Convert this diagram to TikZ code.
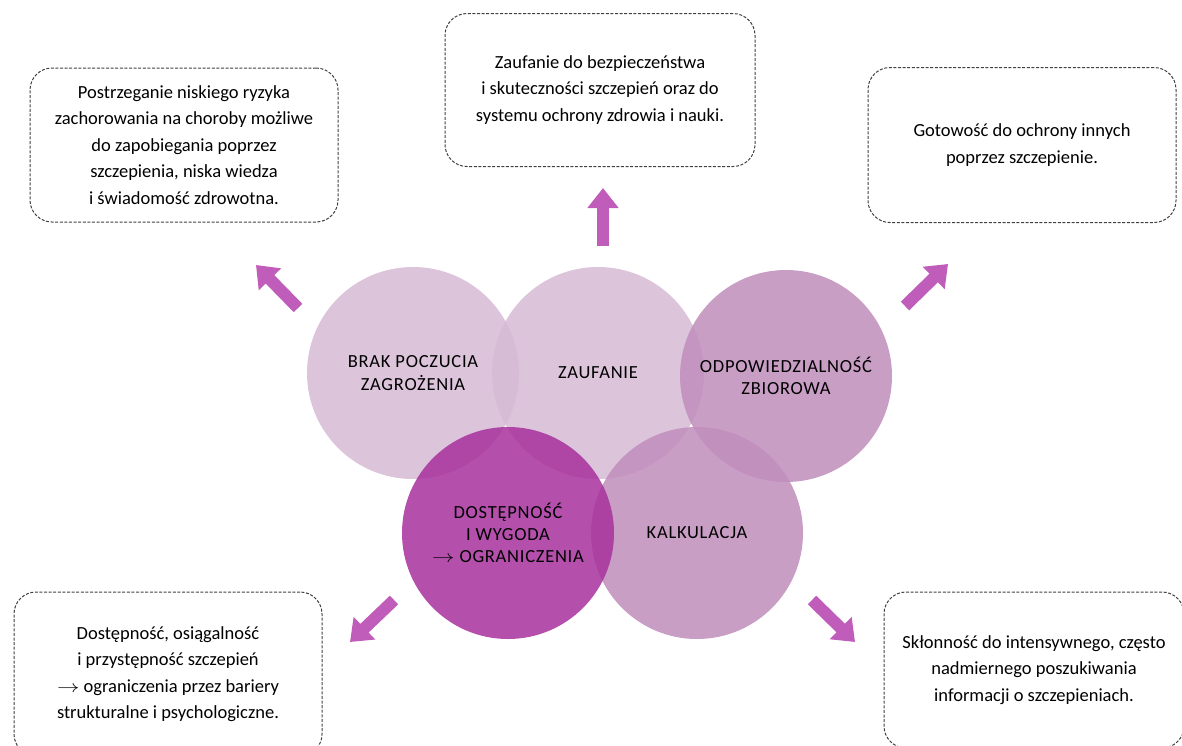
\documentclass[tikz,border=0pt]{standalone}
\usepackage{fontspec}
\setmainfont{Carlito}
\newfontfamily\capsfont[LetterSpace=4]{Carlito}
\usetikzlibrary{arrows.meta}
\definecolor{lilac}{RGB}{214,186,212}
\definecolor{mauve}{RGB}{192,141,187}
\definecolor{plum}{RGB}{167,49,157}
\definecolor{arrowpink}{RGB}{192,92,186}
\newcommand{\limarrow}{\scalebox{1.3}[1]{$\rightarrow$}}
\tikzset{
  factor/.style={circle, minimum size=212pt, fill opacity=0.85, text opacity=1,
    align=center, font=\capsfont\fontsize{18.5}{22.3}\selectfont},
  notebox/.style={draw=black!75, line width=1pt, dash pattern=on 3pt off 1.6pt,
    rounded corners=22pt, minimum width=308pt, align=center,
    font=\fontsize{18.5}{26.5}\selectfont},
  pointer/.style={arrowpink, line width=12pt, -{Triangle[width=30pt,length=20pt]}},
}
\begin{document}
\begin{tikzpicture}[x=1pt,y=-1pt]
\useasboundingbox (0,0) rectangle (1182,745);
% circles, the dark one on top
\node[factor, fill=lilac] (brak) at (413,373) {BRAK POCZUCIA\\ZAGROŻENIA};
\node[factor, fill=lilac] (zaufanie) at (598,373) {ZAUFANIE};
\node[factor, fill=mauve] (odpow) at (786,376) {ODPOWIEDZIALNOŚĆ\\ZBIOROWA};
\node[factor, fill=mauve] (kalk) at (697,533) {KALKULACJA};
\node[factor, fill=plum] (dostep) at (508,533) {DOSTĘPNOŚĆ\\I WYGODA\\\limarrow{} OGRANICZENIA};

% descriptions
\node[notebox, minimum height=154pt] (brakbox) at (184,145)
  {Postrzeganie niskiego ryzyka\\zachorowania na choroby możliwe\\do zapobiegania poprzez\\szczepienia, niska wiedza\\i świadomość zdrowotna.};
\node[notebox, minimum width=310pt, minimum height=153pt] (zaufaniebox) at (600,90)
  {Zaufanie do bezpieczeństwa\\i skuteczności szczepień oraz do\\systemu ochrony zdrowia i nauki.};
\node[notebox, minimum height=155pt] (odpowbox) at (1022,145)
  {Gotowość do ochrony innych\\poprzez szczepienie.};
\node[notebox, minimum height=164pt] (dostepbox) at (168,674)
  {Dostępność, osiągalność\\i przystępność szczepień\\\limarrow{} ograniczenia przez bariery\\strukturalne i psychologiczne.};
\node[notebox, minimum width=300pt, minimum height=156pt] (kalkbox) at (1034,670)
  {Skłonność do intensywnego, często\\nadmiernego poszukiwania\\informacji o szczepieniach.};

% arrows from the circles out to the boxes
\coordinate (brakfrom) at (298,308);      \coordinate (brakto) at (256,265);
\coordinate (zaufaniefrom) at (603,246);  \coordinate (zaufanieto) at (603,188);
\coordinate (odpowfrom) at (905,306);     \coordinate (odpowto) at (948,264);
\coordinate (dostepfrom) at (394,600);    \coordinate (dostepto) at (350,642);
\coordinate (kalkfrom) at (812,600);      \coordinate (kalkto) at (855,642);
\draw[pointer] (brakfrom) -- (brakto);
\draw[pointer] (zaufaniefrom) -- (zaufanieto);
\draw[pointer] (odpowfrom) -- (odpowto);
\draw[pointer] (dostepfrom) -- (dostepto);
\draw[pointer] (kalkfrom) -- (kalkto);
\end{tikzpicture}
\end{document}
